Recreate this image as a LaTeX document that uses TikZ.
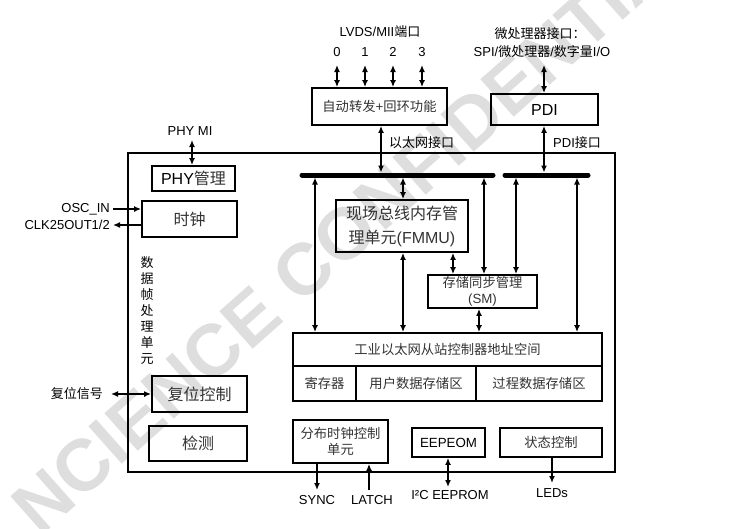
\documentclass[tikz,border=0pt]{standalone}
\usepackage{fontspec}
\setmainfont{Liberation Sans}
\newfontfamily\cjk{Noto Sans CJK SC}
\usetikzlibrary{arrows.meta}
\begin{document}
\begin{tikzpicture}[x=1pt,y=-1pt,
  box/.style={draw, line width=1.8pt, inner sep=0pt, align=center},
  big/.style={font=\fontsize{16}{24}\selectfont},
  mid/.style={font=\fontsize{13.3}{15.5}\selectfont},
  lbl/.style={inner sep=0pt, font=\fontsize{13}{16}\selectfont},
  conn/.style={line width=1.5pt},
  dbl/.style={conn, {Latex[length=7pt,width=6pt]}-{Latex[length=7pt,width=6pt]}},
  one/.style={conn, -{Latex[length=7pt,width=6pt]}},
  bus/.style={line width=5pt, line cap=round},
  wm/.style={inner sep=0pt, text=black!13, rotate=41.6, font=\fontsize{73}{73}\selectfont\bfseries},
  thin/.style={text=black!80}
]
\useasboundingbox (0,0) rectangle (729,528);
% watermark
\node[wm] (wmark) at (357,223) {NCIENCE CONFIDENTIAL};

% boxes
\node[box, minimum width=487pt, minimum height=319pt] (outer) at (371.5,312.5) {};
\node[box, big, minimum width=83pt, minimum height=25pt] (phy) at (193.5,178.5) {PHY{\cjk\color{black!80}管理}};
\node[box, big, thin, minimum width=95pt, minimum height=36pt] (clk) at (189.5,219) {\cjk 时钟};
\node[box, big, thin, minimum width=95pt, minimum height=36pt] (rst) at (199.5,394) {\cjk 复位控制};
\node[box, big, thin, minimum width=98pt, minimum height=35pt] (det) at (198,443.5) {\cjk 检测};
\node[box, mid, thin, minimum width=135pt, minimum height=37pt] (fwd) at (379.5,106.5) {{\cjk 自动转发}+{\cjk 回环功能}};
\node[box, big, minimum width=107pt, minimum height=31pt] (pdi) at (544.5,109.5) {PDI};
\node[box, big, thin, minimum width=132pt, minimum height=52pt] (fmmu) at (402,226) {{\cjk 现场总线内存管}\\{\cjk 理单元}(FMMU)};
\node[box, mid, thin, minimum width=109pt, minimum height=33pt] (sm) at (482.5,291.5) {{\cjk 存储同步管理}\\(SM)};
\node[box, mid, thin, minimum width=309pt, minimum height=33pt] (escT) at (447.5,349.5) {\cjk 工业以太网从站控制器地址空间};
\node[box, mid, thin, minimum width=63pt, minimum height=35pt] (reg) at (324.5,383.5) {\cjk 寄存器};
\node[box, mid, thin, minimum width=120pt, minimum height=35pt] (usr) at (416,383.5) {\cjk 用户数据存储区};
\node[box, mid, thin, minimum width=126pt, minimum height=35pt] (proc) at (539,383.5) {\cjk 过程数据存储区};
\node[box, mid, thin, minimum width=95pt, minimum height=43pt] (dc) at (340.5,441.5) {{\cjk 分布时钟控制}\\{\cjk 单元}};
\node[box, mid, minimum width=73pt, minimum height=29pt] (eep) at (448.5,442.5) {EEPEOM};
\node[box, mid, thin, minimum width=102pt, minimum height=29pt] (stat) at (551,442.5) {\cjk 状态控制};

% labels
\node[lbl] (lvds) at (380,32) {LVDS/MII{\cjk 端口}};
\node[lbl] (p0) at (337,52) {0};
\node[lbl] (p1) at (365,52) {1};
\node[lbl] (p2) at (393,52) {2};
\node[lbl] (p3) at (422,52) {3};
\node[lbl] (mpu1) at (540,34) {\cjk 微处理器接口：};
\node[lbl] (mpu2) at (542,52) {SPI/{\cjk 微处理器}/{\cjk 数字量}I/O};
\node[lbl, anchor=west] (ethif) at (389,143) {\cjk 以太网接口};
\node[lbl, anchor=west] (pdiif) at (553,143) {PDI{\cjk 接口}};
\node[lbl] (phymi) at (190,131) {PHY MI};
\node[lbl, anchor=east] (osc) at (110,209) {OSC\_IN};
\node[lbl, anchor=east] (clkout) at (110,225) {CLK25OUT1/2};
\node[lbl, align=center, font=\fontsize{13}{16}\selectfont\cjk] (dfp) at (147,311) {数\\据\\帧\\处\\理\\单\\元};
\node[lbl, anchor=east] (rstsig) at (103,394) {\cjk 复位信号};
\node[lbl] (sync) at (317,500) {SYNC};
\node[lbl] (latch) at (372,500) {LATCH};
\node[lbl] (i2c) at (450,495) {I²C EEPROM};
\node[lbl] (leds) at (552,493) {LEDs};

% buses
\coordinate (busLa) at (302,175);
\coordinate (busLb) at (493,175);
\coordinate (busRa) at (505,175);
\coordinate (busRb) at (588,175);
\draw[bus] (busLa) -- (busLb);
\draw[bus] (busRa) -- (busRb);

% tap coordinates
\coordinate (t0) at (337,65);
\coordinate (t1) at (365,65);
\coordinate (t2) at (393,65);
\coordinate (t3) at (422,65);
\coordinate (tm) at (544,65);
\coordinate (bL0) at (381,172.5);
\coordinate (bR0) at (544,172.5);
\coordinate (bL1) at (315,177.5);
\coordinate (bL2) at (403,177.5);
\coordinate (bL3) at (484,177.5);
\coordinate (bR1) at (516,177.5);
\coordinate (bR2) at (577,177.5);
\coordinate (c453) at (453,0);
\coordinate (c479) at (479,0);
\coordinate (pm) at (192,140);
\coordinate (syncE) at (317,490);
\coordinate (latE) at (369,490);
\coordinate (i2cE) at (448,487);
\coordinate (ledE) at (552,483);

% connectors
\draw[dbl] (t0) -- (t0 |- fwd.north);
\draw[dbl] (t1) -- (t1 |- fwd.north);
\draw[dbl] (t2) -- (t2 |- fwd.north);
\draw[dbl] (t3) -- (t3 |- fwd.north);
\draw[dbl] (tm) -- (tm |- pdi.north);
\draw[dbl] (bL0 |- fwd.south) -- (bL0);
\draw[dbl] (bR0 |- pdi.south) -- (bR0);
\draw[dbl] (bL1) -- (bL1 |- escT.north);
\draw[dbl] (bL2) -- (bL2 |- fmmu.north);
\draw[dbl] (bL2 |- fmmu.south) -- (bL2 |- escT.north);
\draw[dbl] (c453 |- fmmu.south) -- (c453 |- sm.north);
\draw[dbl] (bL3) -- (bL3 |- sm.north);
\draw[dbl] (bR1) -- (bR1 |- sm.north);
\draw[dbl] (bR2) -- (bR2 |- escT.north);
\draw[dbl] (c479 |- sm.south) -- (c479 |- escT.north);
\draw[dbl] (pm) -- (pm |- phy.north);
\draw[one] ([xshift=3pt]osc.east) -- (osc.east -| clk.west);
\draw[one] (clkout.east -| clk.west) -- ([xshift=3pt]clkout.east);
\draw[dbl] ([xshift=8pt]rstsig.east) -- (rstsig.east -| rst.west);
\draw[one] (syncE |- dc.south) -- (syncE);
\draw[one] (latE) -- (latE |- dc.south);
\draw[dbl] (i2cE |- eep.south) -- (i2cE);
\draw[one] (ledE |- stat.south) -- (ledE);
\end{tikzpicture}
\end{document}
